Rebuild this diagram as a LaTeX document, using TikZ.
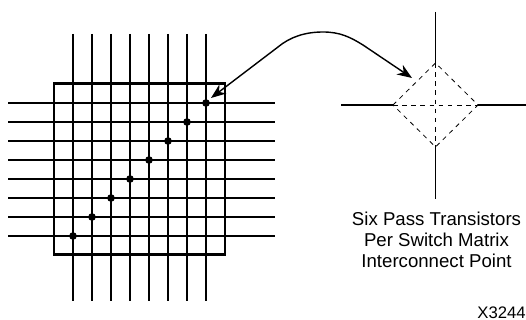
\documentclass[tikz,border=0pt]{standalone}
\usepackage{fontspec}
\setmainfont{Liberation Sans}
\usetikzlibrary{calc, positioning, arrows.meta}

\tikzset{
  wire/.style={line width=.72pt},
  frame/.style={line width=1.6pt},
  pass/.style={line width=.45pt, dash pattern=on 2.6pt off 2.6pt},
  pointer/.style={line width=.8pt, {Stealth[length=8.5pt,width=6.5pt]}-{Stealth[length=8.5pt,width=6.5pt]}},
  crosspoint/.style={circle, fill=black, inner sep=0pt, minimum size=4.4pt},
  caption/.style={inner sep=0pt, font=\fontsize{10.6}{12}\selectfont, align=center},
  partno/.style={inner sep=0pt, font=\fontsize{9.5}{11}\selectfont}
}

\begin{document}
\begin{tikzpicture}[x=.02cm, y=-.02cm]
      \useasboundingbox (0,0) rectangle (526,320);

      % switch matrix
      \foreach \i in {1,...,8} {
        \coordinate (vt\i) at (54+19*\i,34);
        \coordinate (vb\i) at (54+19*\i,301);
        \coordinate (hl\i) at (8,255-19*\i);
        \coordinate (hr\i) at (275,255-19*\i);
        \draw[wire] (vt\i) -- (vb\i);
        \draw[wire] (hl\i) -- (hr\i);
        \node[crosspoint] (p\i) at (vt\i|-hl\i) {};
      }
      \node[draw, frame, minimum width=171*.02cm, minimum height=171*.02cm, inner sep=0pt] (m) at (139.5,169) {};

      % single interconnect point
      \coordinate (l) at (393,105);
      \coordinate (r) at (478,105);
      \coordinate (t) at (435.5,63);
      \coordinate (b) at (435.5,147);
      \coordinate (le) at (341,105);
      \coordinate (re) at (526,105);
      \coordinate (te) at (435.5,12);
      \coordinate (be) at (435.5,199);
      \draw[wire] (le) -- (l);
      \draw[wire] (r) -- (re);
      \draw[wire] (te) -- (t);
      \draw[wire] (b) -- (be);
      \draw[pass] (l) -- (t) -- (r) -- (b) -- cycle;
      \draw[pass] (l) -- (r);
      \draw[pass] (t) -- (b);

      % link
      \coordinate (s) at (412,78);
      \draw[pointer] ($(p8)+(5,-5)$) -- (278,47) .. controls (290,37) and (305,32) .. (323,32) .. controls (340,32) and (350,37) .. (363,45) -- (s);

      \node[caption] (c) at (436.5,240) {Six Pass Transistors\\Per Switch Matrix\\Interconnect Point};
      \node[partno, anchor=base east] (x) at (526,318) {X3244};
\end{tikzpicture}
\end{document}
